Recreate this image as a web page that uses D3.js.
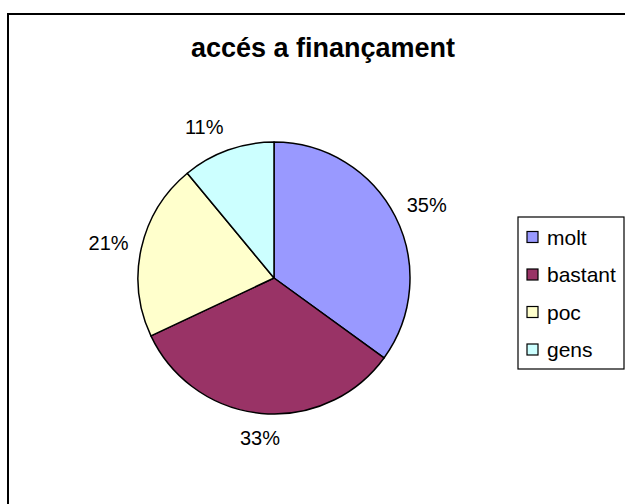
<!DOCTYPE html>
<html>
<head>
<meta charset="utf-8">
<script src="https://cdn.jsdelivr.net/npm/d3@7"></script>
<style>
  html, body { margin: 0; padding: 0; background: #fff; }
  svg { display: block; }
  text { font-family: "Liberation Sans", Arial, sans-serif; }
</style>
</head>
<body>
<svg id="chart" width="625" height="504"></svg>
<script>
const title = "accés a finançament";
const categories = ["molt", "bastant", "poc", "gens"];
const values = [35, 33, 21, 11];
const colors = ["#9999FF", "#993366", "#FFFFCC", "#CCFFFF"];

const svg = d3.select("#chart");

// chart area frame (runs past the right and bottom edges)
svg.append("rect")
  .attr("x", 8).attr("y", 14)
  .attr("width", 660).attr("height", 540)
  .attr("fill", "#fff").attr("stroke", "#000").attr("stroke-width", 2);

svg.append("text")
  .attr("x", 323).attr("y", 57)
  .attr("text-anchor", "middle")
  .attr("font-size", 27)
  .attr("font-weight", "bold")
  .text(title);

const cx = 274, cy = 278, r = 136;
const data = categories.map((c, i) => ({ name: c, value: values[i], color: colors[i] }));
const pie = d3.pie().value(d => d.value).sort(null);
const arc = d3.arc().innerRadius(0).outerRadius(r);
const arcs = pie(data);
const total = d3.sum(values);

const g = svg.append("g").attr("transform", `translate(${cx},${cy})`);
g.selectAll("path.slice")
  .data(arcs)
  .join("path")
  .attr("class", "slice")
  .attr("d", arc)
  .attr("fill", d => d.data.color)
  .attr("stroke", "#000")
  .attr("stroke-width", 1.5)
  .attr("stroke-linejoin", "round");

// percentage labels outside the rim: anchored away from the pie on the sides,
// centred when the slice points straight up or down
const labelArc = d3.arc().innerRadius(r + 13).outerRadius(r + 13);
g.selectAll("text.pct")
  .data(arcs)
  .join("text")
  .attr("class", "pct")
  .attr("font-size", 20)
  .attr("dominant-baseline", "central")
  .text(d => Math.round(d.data.value / total * 100) + "%")
  .each(function (d) {
    const a = (d.startAngle + d.endAngle) / 2;
    const ux = Math.sin(a), uy = -Math.cos(a);
    const [px, py] = labelArc.centroid(d);
    const anchor = Math.abs(ux) < 0.2 ? "middle" : (ux > 0 ? "start" : "end");
    d3.select(this)
      .attr("text-anchor", anchor)
      .attr("x", px)
      .attr("y", py + uy * 12);
  });

// legend
const lg = svg.append("g");
const legX = 518, legY = 217, legW = 106, legH = 152;
lg.append("rect")
  .attr("x", legX).attr("y", legY)
  .attr("width", legW).attr("height", legH)
  .attr("fill", "#fff").attr("stroke", "#000").attr("stroke-width", 1.2);

const ly = d3.scalePoint().domain(categories).range([legY + 20, legY + legH - 19.5]);
const items = lg.selectAll("g.item").data(data).join("g").attr("class", "item")
  .attr("transform", d => `translate(${legX + 9},${ly(d.name)})`);
items.append("rect")
  .attr("x", 0).attr("y", -5.5)
  .attr("width", 11).attr("height", 11)
  .attr("fill", d => d.color)
  .attr("stroke", "#000").attr("stroke-width", 1.2);
items.append("text")
  .attr("x", 20).attr("y", 0)
  .attr("dominant-baseline", "central")
  .attr("font-size", 21)
  .text(d => d.name);
</script>
</body>
</html>
